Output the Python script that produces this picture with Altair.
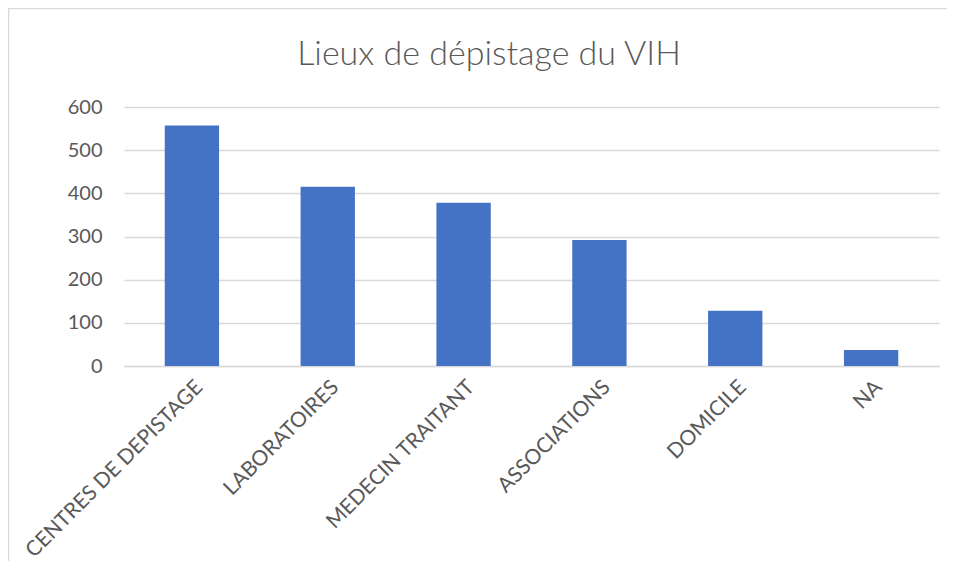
import altair as alt
import pandas as pd

categories = ["CENTRES DE DEPISTAGE", "LABORATOIRES", "MEDECIN TRAITANT",
              "ASSOCIATIONS", "DOMICILE", "NA"]
values = [557, 415, 378, 292, 128, 37]
y_ticks = [0, 100, 200, 300, 400, 500, 600]
title_text = "Lieux de dépistage du VIH"

df = pd.DataFrame({"lieu": categories, "n": values})
one = pd.DataFrame({"t": [title_text]})

FONT = "Lato"
TXT = "#595959"
GRID = "#d9d9d9"

bars = alt.Chart(df).mark_bar(color="#4472C4").encode(
    x=alt.X("lieu:N", sort=categories, title=None,
            scale=alt.Scale(paddingInner=0.6, paddingOuter=0.3),
            axis=alt.Axis(labelAngle=-45, labelAlign="right", labelBaseline="top",
                          labelFont=FONT, labelFontSize=21, labelColor=TXT,
                          labelPadding=10, labelLimit=0, ticks=False, domain=True,
                          domainColor=GRID, domainWidth=1.5, grid=False)),
    y=alt.Y("n:Q", title=None,
            scale=alt.Scale(domain=[0, 600], nice=False),
            axis=alt.Axis(values=y_ticks, labelFont=FONT, labelFontSize=20,
                          labelColor=TXT, labelPadding=22, ticks=False, domain=False,
                          grid=True, gridColor=GRID, gridWidth=1.5)),
)

title_mark = alt.Chart(one).mark_text(
    font=FONT, fontSize=34, fontWeight=300, color=TXT, align="center",
    baseline="alphabetic"
).encode(text="t:N", x=alt.value(365), y=alt.value(-42))

border = alt.Chart(one).mark_rect(fillOpacity=0, stroke=GRID, strokeWidth=1.5).encode(
    x=alt.value(-115.5), x2=alt.value(900), y=alt.value(-98.5), y2=alt.value(600)
)

chart = alt.layer(border, bars, title_mark).properties(
    width=815, height=259,
    autosize=alt.AutoSizeParams(type="none"),
    padding={"left": 116, "top": 99, "right": 8, "bottom": 195},
).configure_view(stroke=None)

chart.save("out.html", embed_options={"renderer": "svg", "actions": False})
